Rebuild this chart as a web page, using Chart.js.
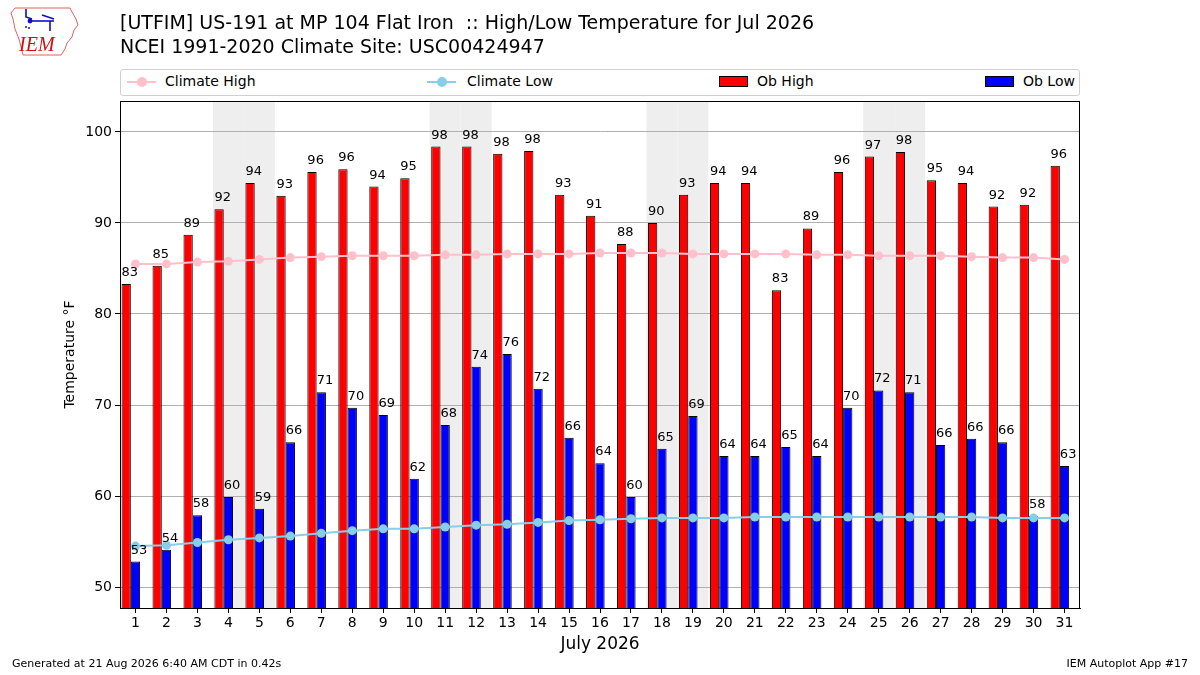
<!DOCTYPE html>
<html>
<head>
<meta charset="utf-8">
<script src="https://cdn.jsdelivr.net/npm/chart.js@4"></script>
<style>
  body { margin: 0; background: #fff; font-family: "DejaVu Sans", sans-serif; }
  #wrap { position: relative; width: 1200px; height: 675px; overflow: hidden; }
  #chart { position: absolute; left: 0; top: 0; }
  .title { position: absolute; left: 120px; font-size: 19px; color: #000; white-space: pre; }
  #legend { position: absolute; left: 120px; top: 69px; width: 958px; height: 25px;
    border: 1px solid #d0d0d0; border-radius: 3px; background: #fff; font-size: 14px; }
  .lg { position: absolute; top: 3px; white-space: nowrap; }
  .foot { position: absolute; top: 657px; font-size: 11px; color: #000; }
</style>
</head>
<body>
<div id="wrap">
  <canvas id="chart" width="1200" height="675"></canvas>
  <svg style="position:absolute;left:6px;top:5px" width="76" height="54" viewBox="0 0 76 54">
    <path d="M9 3 L64 3 L66 7 L70 14 L72 20 L68 25 L66 32 L61 38 L59 44 L55 50 L17 50 L15 42 L13 34 L9 24 L7 14 L5 8 Z"
      fill="none" stroke="#e06060" stroke-width="1"/>
    <g stroke="#1010c0" stroke-width="1.6" fill="none">
      <path d="M20 4 L20 12 L26 14"/>
      <path d="M22 16 L48 16"/>
      <path d="M36 10 L48 14"/>
      <path d="M44 16 L44 26"/>
    </g>
    <circle cx="24" cy="16" r="2.4" fill="#1010c0"/>
    <circle cx="20" cy="22" r="1" fill="#1010c0"/>
    <circle cx="23" cy="23" r="1" fill="#1010c0"/>
    <text x="13" y="46" font-family="Liberation Serif, serif" font-style="italic" font-size="20" fill="#d01010">IEM</text>
  </svg>
  <div class="title" style="top:11px">[UTFIM] US-191 at MP 104 Flat Iron  :: High/Low Temperature for Jul 2026</div>
  <div class="title" style="top:35px">NCEI 1991-2020 Climate Site: USC00424947</div>
  <div id="legend"></div>
  <div class="foot" style="left:12px">Generated at 21 Aug 2026 6:40 AM CDT in 0.42s</div>
  <div class="foot" style="right:12px">IEM Autoplot App #17</div>
</div>
<script>
// July 2026 daily values
const days = ["1","2","3","4","5","6","7","8","9","10","11","12","13","14","15","16",
  "17","18","19","20","21","22","23","24","25","26","27","28","29","30","31"];
const obHigh = [83.3, 85.3, 88.7, 91.5, 94.4, 93.0, 95.6, 95.9, 94.0, 94.9, 98.4, 98.4, 97.6, 97.9, 93.1, 90.8,
  87.7, 90.0, 93.1, 94.4, 94.4, 82.6, 89.4, 95.6, 97.3, 97.8, 94.7, 94.4, 91.8, 92.0, 96.3];
const obLow = [52.8, 54.1, 57.9, 59.9, 58.6, 65.9, 71.4, 69.7, 68.9, 61.9, 67.8, 74.2, 75.6, 71.8, 66.4, 63.6,
  59.9, 65.2, 68.8, 64.4, 64.4, 65.4, 64.4, 69.7, 71.6, 71.4, 65.6, 66.3, 65.9, 57.8, 63.3];
const climateHigh = [85.5, 85.5, 85.7, 85.8, 86.0, 86.2, 86.3, 86.4, 86.4, 86.4, 86.5, 86.5, 86.6, 86.6, 86.6, 86.7,
  86.7, 86.7, 86.6, 86.6, 86.6, 86.6, 86.5, 86.5, 86.4, 86.4, 86.4, 86.3, 86.2, 86.2, 86.0];
const climateLow = [54.5, 54.6, 54.9, 55.2, 55.4, 55.6, 55.9, 56.2, 56.4, 56.4, 56.6, 56.8, 56.9, 57.1, 57.3, 57.4,
  57.5, 57.6, 57.6, 57.6, 57.7, 57.7, 57.7, 57.7, 57.7, 57.7, 57.7, 57.7, 57.6, 57.6, 57.6];
const weekendDays = [4, 5, 11, 12, 18, 19, 25, 26];
const yTicks = [50, 60, 70, 80, 90, 100];

const FONT = "DejaVu Sans";

// legend, laid out like the matplotlib expanded one
const legendItems = [
  { label: "Climate High", color: "#ffc0cb", kind: "line", x: 6, tx: 44 },
  { label: "Climate Low", color: "#87ceeb", kind: "line", x: 306, tx: 346 },
  { label: "Ob High", color: "#ff0000", kind: "box", x: 598, tx: 636 },
  { label: "Ob Low", color: "#0000ff", kind: "box", x: 864, tx: 902 }
];
let lgHtml = "";
legendItems.forEach(function (it) {
  if (it.kind === "line") {
    lgHtml += `<div style="position:absolute;left:${it.x}px;top:11px;width:29px;height:2px;background:${it.color}"></div>
      <div style="position:absolute;left:${it.x + 10}px;top:7px;width:10px;height:10px;border-radius:5px;background:${it.color}"></div>`;
  } else {
    lgHtml += `<div style="position:absolute;left:${it.x}px;top:6px;width:27px;height:9px;border:1px solid #000;background:${it.color}"></div>`;
  }
  lgHtml += `<div class="lg" style="left:${it.tx}px">${it.label}</div>`;
});
document.getElementById("legend").innerHTML = lgHtml;

const shadePlugin = {
  id: "shade",
  beforeDraw: function (chart) {
    const ctx = chart.ctx;
    const a = chart.chartArea;
    const xs = chart.scales.x;
    ctx.save();
    ctx.fillStyle = "#fff";
    ctx.fillRect(0, 0, chart.width, chart.height);
    const half = (xs.getPixelForValue(1) - xs.getPixelForValue(0)) / 2;
    ctx.fillStyle = "#eeeeee";
    weekendDays.forEach(function (d) {
      const c = xs.getPixelForValue(d - 1);
      ctx.fillRect(c - half, a.top, half * 2, a.bottom - a.top);
    });
    ctx.restore();
  }
};

const labelPlugin = {
  id: "barLabels",
  afterDatasetsDraw: function (chart) {
    const ctx = chart.ctx;
    ctx.save();
    ctx.font = "13px '" + FONT + "'";
    ctx.fillStyle = "#000";
    ctx.textAlign = "left";
    ctx.textBaseline = "alphabetic";
    [2, 3].forEach(function (di) {
      const meta = chart.getDatasetMeta(di);
      const vals = chart.data.datasets[di].data;
      meta.data.forEach(function (bar, i) {
        ctx.fillText(String(Math.round(vals[i])), bar.x - bar.width / 2, bar.y - 8);
      });
    });
    // frame around the plot
    const a = chart.chartArea;
    ctx.strokeStyle = "#000";
    ctx.lineWidth = 1;
    ctx.strokeRect(a.left + 0.5, a.top + 0.5, a.right - a.left - 1, a.bottom - a.top);
    ctx.restore();
  }
};

const barCommon = {
  borderColor: "#000",
  borderWidth: 1,
  borderSkipped: false,
  barPercentage: 1,
  categoryPercentage: 0.9,
  order: 1
};

new Chart(document.getElementById("chart"), {
  type: "bar",
  data: {
    labels: days,
    datasets: [
      {
        type: "line",
        label: "Climate High",
        data: climateHigh,
        borderColor: "#ffc0cb",
        backgroundColor: "#ffc0cb",
        borderWidth: 2,
        pointRadius: 4.5,
        pointBorderWidth: 0,
        tension: 0,
        order: 0
      },
      {
        type: "line",
        label: "Climate Low",
        data: climateLow,
        borderColor: "#87ceeb",
        backgroundColor: "#87ceeb",
        borderWidth: 2,
        pointRadius: 4.5,
        pointBorderWidth: 0,
        tension: 0,
        order: 0
      },
      Object.assign({ label: "Ob High", data: obHigh, backgroundColor: "#ff0000" }, barCommon),
      Object.assign({ label: "Ob Low", data: obLow, backgroundColor: "#0000ff" }, barCommon),
      // empty slot so the high/low pair sits left of the day tick, as in the original
      Object.assign({ label: "", data: [], backgroundColor: "rgba(0,0,0,0)" }, barCommon)
    ]
  },
  options: {
    responsive: false,
    animation: false,
    devicePixelRatio: 1,
    layout: { padding: { left: 0, top: 101, right: 120, bottom: 0 } },
    plugins: {
      legend: { display: false },
      tooltip: { enabled: false }
    },
    scales: {
      x: {
        offset: true,
        grid: { offset: false, drawOnChartArea: false, drawTicks: true, tickLength: 5, color: "#000" },
        border: { display: true, color: "#000" },
        ticks: { color: "#000", font: { family: FONT, size: 14 }, padding: 2, maxRotation: 0 },
        title: { display: true, text: "July 2026", color: "#000", font: { family: FONT, size: 17 }, padding: { top: 0, bottom: 20 } },
        afterFit: function (scale) { scale.height = 67; }
      },
      y: {
        min: 47.7,
        max: 103.4,
        afterBuildTicks: function (scale) {
          scale.ticks = yTicks.map(function (v) { return { value: v }; });
        },
        grid: { color: "#b0b0b0", tickColor: "#000", tickLength: 5, lineWidth: 1 },
        border: { display: true, color: "#000" },
        ticks: { color: "#000", font: { family: FONT, size: 14 }, padding: 3 },
        title: { display: true, text: "Temperature °F", color: "#000", font: { family: FONT, size: 14 }, padding: { top: 62 } },
        afterFit: function (scale) { scale.width = 120; }
      }
    }
  },
  plugins: [shadePlugin, labelPlugin]
});
</script>
</body>
</html>
